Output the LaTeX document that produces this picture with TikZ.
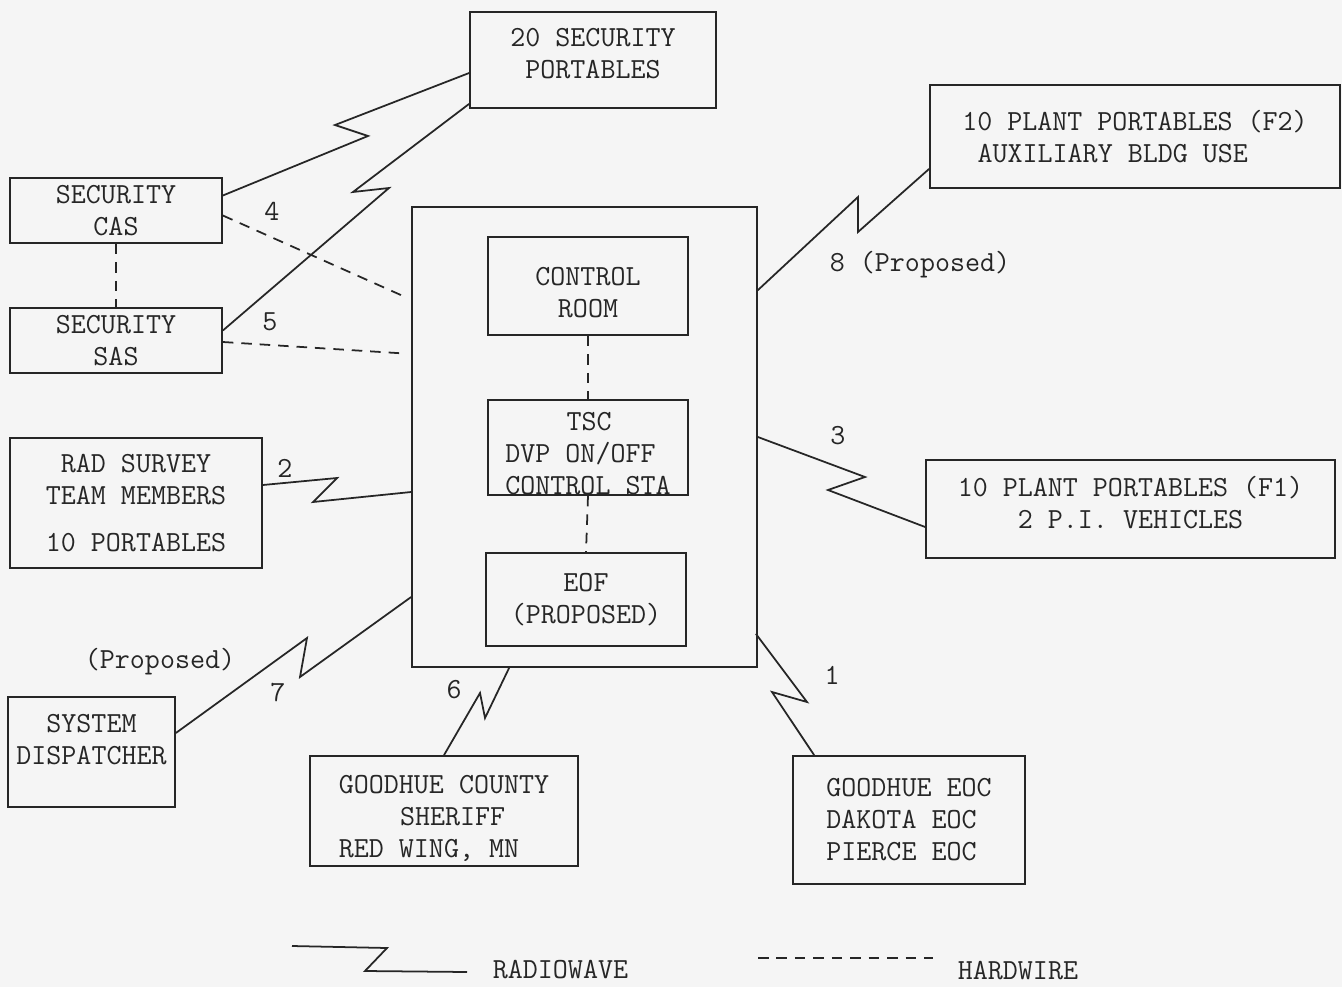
\documentclass[tikz,border=0pt]{standalone}
\usetikzlibrary{calc}
\newcommand{\tw}{\fontsize{16.6}{18.2}\selectfont\ttfamily}

\begin{document}
\begin{tikzpicture}[x=0.02cm, y=-0.02cm, line width=1pt, color=black!85,
                    unit/.style={draw, rectangle, inner sep=0pt, font=\tw, align=center},
                    num/.style={inner sep=0pt, font=\tw},
                    radio/.style={draw, line join=miter},
                    wire/.style={draw, dash pattern=on 6pt off 4.5pt}]

\fill[black!4] (0,0) rectangle (1342,987);
\useasboundingbox (0,0) rectangle (1342,987);

% boxes
\node[unit, minimum width=4.92cm, minimum height=1.92cm] (secp) at (593,60) {20 SECURITY\\PORTABLES\\[-10.3pt]\mbox{}};
\node[unit, align=left, minimum width=8.2cm, minimum height=2.06cm] (pp2) at (1135,136.5) {10 PLANT PORTABLES (F2)\\\hspace*{0.525em}AUXILIARY BLDG USE};
\node[unit, minimum width=4.24cm, minimum height=1.3cm] (cas) at (116,210.5) {SECURITY\\CAS};
\node[unit, minimum width=4.24cm, minimum height=1.3cm] (sas) at (116,340.5) {SECURITY\\SAS};
\node[unit, minimum width=6.9cm, minimum height=9.2cm] (plant) at (584.5,437) {};
\node[unit, minimum width=4cm, minimum height=1.96cm] (ctrl) at (588,286) {\mbox{}\\[-0.2pt]CONTROL\\ROOM};
\node[unit, align=left, minimum width=4cm, minimum height=1.9cm] (tsc) at (588,447.5) {\mbox{}\\[-1.3pt]\hspace*{2.1em}TSC\\DVP ON/OFF\\CONTROL STA};
\node[unit, minimum width=4cm, minimum height=1.86cm] (eof) at (586,599.5) {EOF\\(PROPOSED)};
\node[unit, minimum width=5.04cm, minimum height=2.6cm] (rad) at (136,503) {RAD SURVEY\\TEAM MEMBERS\\[9pt]10 PORTABLES};
\node[unit, minimum width=8.18cm, minimum height=1.96cm] (pp1) at (1130.5,509) {10 PLANT PORTABLES (F1)\\2 P.I. VEHICLES\\[-10.8pt]\mbox{}};
\node[unit, minimum width=3.34cm, minimum height=2.2cm] (disp) at (91.5,752) {SYSTEM\\DISPATCHER\\[-3.5pt]\mbox{}};
\node[unit, align=left, minimum width=5.36cm, minimum height=2.2cm] (sher) at (444,811) {\mbox{}\\[0.4pt]GOODHUE COUNTY\\\hspace*{2.1em}SHERIFF\\RED WING, MN};
\node[unit, align=left, minimum width=4.64cm, minimum height=2.56cm] (eoc) at (909,820) {GOODHUE EOC\\DAKOTA EOC\\PIERCE EOC};

% links
\draw[radio] ($(cas.east)+(0,-15)$) -- (368,136) -- (335,125) -- ($(secp.west)+(0,13)$);
\draw[radio] ($(sas.east)+(0,-10)$) -- (389,188) -- (353,192) -- ($(secp.south west)+(0,-5)$);
\draw[wire] ($(cas.east)+(0,5)$) -- ($(plant.north west)+(-10,89)$);
\draw[wire] ($(sas.east)+(0,1.5)$) -- ($(plant.north west)+(-12,147)$);
\draw[wire] (cas.south) -- (sas.north);
\draw[wire] (ctrl.south) -- (tsc.north);
\draw[wire] (tsc.south) -- (eof.north);
\draw[radio] ($(plant.north east)+(0,84)$) -- (858,197) -- (858,232) -- ($(pp2.south west)+(0,-20)$);
\draw[radio] (plant.east) -- (865,477) -- (828,490) -- ($(pp1.west)+(0,18)$);
\draw[radio] ($(rad.east)+(0,-18)$) -- (337,478) -- (313,502) -- ($(plant.west)+(0,55)$);
\draw[radio] ($(disp.east)+(0,-19)$) -- (307,638) -- (300,677) -- ($(plant.west)+(0,160)$);
\draw[radio] ($(plant.south west)+(98,0)$) -- (485,718) -- (480,693) -- (sher.north);
\draw[radio] ($(plant.south east)+(-2,-34)$) -- (807,702) -- (772,692) -- ($(eoc.north west)+(22,0)$);

\node[num] (n4) at (272,211) {4};
\node[num] (n5) at (270,322) {5};
\node[num] (n2) at (285,468) {2};
\node[num] (n3) at (838,436) {3};
\node[num] (n8) at (920,265) {8 (Proposed)};
\node[num] (p7) at (160,662) {(Proposed)};
\node[num] (n7) at (278,693) {7};
\node[num] (n6) at (454,690) {6};
\node[num] (n1) at (832,675) {1};

% legend
\coordinate (rw) at (292,946);
\node[num, anchor=west] (rwtxt) at (492,970) {RADIOWAVE};
\draw[radio] (rw) -- (387,948) -- (365,971) -- ($(rwtxt.west)+(-25,2)$);
\coordinate (hw) at (758,958);
\node[num, anchor=west] (hwtxt) at (957,971) {HARDWIRE};
\draw[wire] (hw) -- ++(175,0);
\end{tikzpicture}
\end{document}
